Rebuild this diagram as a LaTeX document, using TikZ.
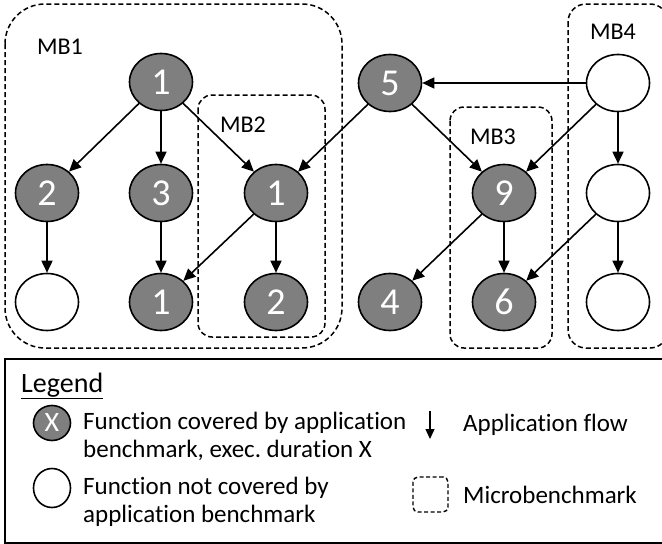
\documentclass[tikz,border=0pt]{standalone}
\usepackage{fontspec}
\setmainfont[Ligatures=NoCommon]{Carlito}
\usetikzlibrary{shapes.geometric,arrows.meta}
\begin{document}
\frenchspacing
\begin{tikzpicture}[x=1pt,y=-1pt,
  fn/.style={ellipse,draw=black,line width=1.6pt,minimum width=63pt,minimum height=57pt,inner sep=0pt,
    font=\fontsize{38}{40}\selectfont,text=white},
  cov/.style={fn,fill=gray50},
  unc/.style={fn,fill=white},
  flow/.style={line width=1.6pt,-{Triangle[length=12pt,width=11pt]}},
  mb/.style={draw=black,dash pattern=on 5pt off 3pt,line width=1.5pt},
  mblabel/.style={font=\fontsize{24}{26}\selectfont},
  legtext/.style={font=\fontsize{25}{28}\selectfont,align=left,anchor=west,inner sep=0pt}
]
\definecolor{gray50}{RGB}{127,127,127}
\clip (0,0) rectangle (662,544);
\useasboundingbox (0,0) rectangle (662,544);
% microbenchmark boxes
\draw[mb,rounded corners=40pt] (5,4) rectangle (342,348);
\draw[mb,rounded corners=14pt] (198,95) rectangle (325,337);
\draw[mb,rounded corners=14pt] (450,107) rectangle (552,348);
\draw[mb,rounded corners=18pt] (568,4) rectangle (668,348);
\node[mblabel] (l1) at (60,47) {MB1};
\node[mblabel] (l2) at (243,125) {MB2};
\node[mblabel] (l3) at (493,137) {MB3};
\node[mblabel] (l4) at (613,32) {MB4};
% functions
\node[cov] (a1) at (161,82) {1};
\node[cov] (b2) at (47,193) {2};
\node[cov] (b3) at (161,193) {3};
\node[cov] (b1) at (276,193) {1};
\node[unc] (c0) at (47,302) {};
\node[cov] (c1) at (161,302) {1};
\node[cov] (c2) at (276,302) {2};
\node[cov] (n5) at (390,83) {5};
\node[cov] (n9) at (504,193) {9};
\node[cov] (n4) at (390,302) {4};
\node[cov] (n6) at (504,302) {6};
\node[unc] (m1) at (618,83) {};
\node[unc] (m2) at (618,193) {};
\node[unc] (m3) at (618,302) {};
% flows
\draw[flow] (a1) -- (b2);
\draw[flow] (a1) -- (b3);
\draw[flow] (a1) -- (b1);
\draw[flow] (b2) -- (c0);
\draw[flow] (b3) -- (c1);
\draw[flow] (b1) -- (c1);
\draw[flow] (b1) -- (c2);
\draw[flow] (n5) -- (b1);
\draw[flow] (m1) -- (n5);
\draw[flow] (m1) -- (n9);
\draw[flow] (n5) -- (n9);
\draw[flow] (m1) -- (m2);
\draw[flow] (m2) -- (m3);
\draw[flow] (m2) -- (n6);
\draw[flow] (n9) -- (n4);
\draw[flow] (n9) -- (n6);
% legend
\draw[line width=1.2pt] (5,359) rectangle (670,543);
\node[anchor=west,inner sep=0pt,font=\fontsize{28}{30}\selectfont] (lt) at (21,386) {\underline{Legend}};
\node[ellipse,draw=black,line width=1.6pt,fill=gray50,minimum width=37pt,minimum height=35pt,inner sep=0pt,text=white,font=\fontsize{28}{30}\selectfont] (lg1) at (52,423) {X};
\node[legtext] (lx1) at (83,436) {Function covered by application\\benchmark, exec. duration X};
\node[ellipse,draw=black,line width=1.6pt,fill=white,minimum width=37pt,minimum height=39pt,inner sep=0pt] (lg2) at (52,488) {};
\node[legtext] (lx2) at (83,502) {Function not covered by\\application benchmark};
\coordinate (fa) at (430,411);
\coordinate (fb) at (430,439);
\draw[line width=1.4pt,-{Triangle[length=10pt,width=9pt]}] (fa) -- (fb);
\node[legtext] (lx3) at (463,425) {Application flow};
\node[draw=black,dash pattern=on 4pt off 2.5pt,line width=1.4pt,rounded corners=5pt,minimum width=35pt,minimum height=35pt,inner sep=0pt] (lg3) at (430.5,494.5) {};
\node[legtext] (lx4) at (463,495) {Microbenchmark};
\end{tikzpicture}
\end{document}
